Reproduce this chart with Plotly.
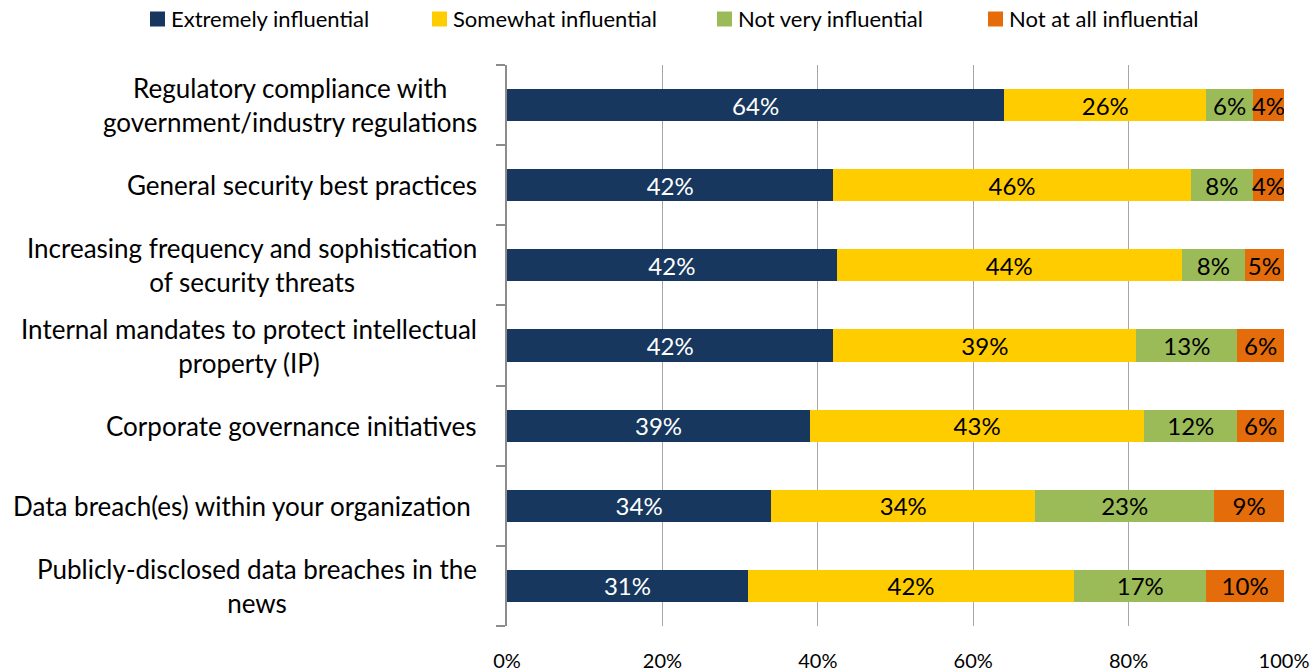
import plotly.graph_objects as go

# Survey: influence of each driver, share of respondents per rating
categories = [
    "Regulatory compliance with<br>government/industry regulations",
    "General security best practices",
    "Increasing frequency and sophistication<br>of security threats",
    "Internal mandates to protect intellectual<br>property (IP)",
    "Corporate governance initiatives",
    "Data breach(es) within your organization\u00a0",
    "Publicly-disclosed data breaches in the<br>news",
]
extremely = [64, 42, 42, 42, 39, 34, 31]
somewhat = [26, 46, 44, 39, 43, 34, 42]
not_very = [6, 8, 8, 13, 12, 23, 17]
not_at_all = [4, 4, 5, 6, 6, 9, 10]

series_names = ["Extremely influential", "Somewhat influential",
                "Not very influential", "Not at all influential"]
series_values = [extremely, somewhat, not_very, not_at_all]
colors = ["#17375E", "#FFCC00", "#9BBB59", "#E46C0A"]
label_colors = ["white", "black", "black", "black"]

x_ticks = [0, 20, 40, 60, 80, 100]
x_tick_labels = [f"{t}%" for t in x_ticks]

FONT = "Lato"
W, H = 1315, 672
M_L, M_R, M_T, M_B = 507, 31, 65, 46
PLOT_W = W - M_L - M_R
PLOT_H = H - M_T - M_B


def px_x(px):
    """Horizontal pixel position -> paper coordinate."""
    return (px - M_L) / PLOT_W


def px_y(py):
    """Vertical pixel position (from top) -> paper coordinate."""
    return (H - M_B - py) / PLOT_H


fig = go.Figure()
row_ids = list(range(len(categories)))
for name, vals, col, lcol in zip(series_names, series_values, colors, label_colors):
    fig.add_trace(go.Bar(
        y=row_ids,
        x=vals,
        name=name,
        orientation="h",
        marker=dict(color=col, line=dict(width=0)),
        text=[f"{v}%" for v in vals],
        textposition="inside",
        insidetextanchor="middle",
        textangle=0,
        constraintext="none",
        textfont=dict(family=FONT, size=24, color=lcol),
        hoverinfo="x+name",
        showlegend=False,
    ))

# Category labels, centred line by line and right-aligned against the axis
for i, cat in enumerate(categories):
    fig.add_annotation(
        x=0, xref="paper", y=i, yref="y",
        text=cat, showarrow=False,
        xanchor="right", yanchor="middle", align="center",
        xshift=-28,
        font=dict(family=FONT, size=26, color="black"),
    )

# Legend row across the top: colour swatch followed by series name
legend_starts = [150, 432, 717, 988]
swatch = 15
legend_cy = 19
for start, name, col in zip(legend_starts, series_names, colors):
    fig.add_shape(
        type="rect", xref="paper", yref="paper",
        x0=px_x(start), x1=px_x(start + swatch),
        y0=px_y(legend_cy + swatch / 2), y1=px_y(legend_cy - swatch / 2),
        fillcolor=col, line=dict(width=0), layer="above",
    )
    fig.add_annotation(
        x=px_x(start + swatch + 4), xref="paper",
        y=px_y(legend_cy), yref="paper",
        text=name, showarrow=False,
        xanchor="left", yanchor="middle",
        font=dict(family=FONT, size=22, color="black"),
    )

fig.update_layout(
    width=W, height=H,
    margin=dict(l=M_L, r=M_R, t=M_T, b=M_B, autoexpand=False),
    barmode="stack",
    barnorm="percent",
    bargap=0.6,
    paper_bgcolor="white",
    plot_bgcolor="white",
    font=dict(family=FONT, color="black"),
    showlegend=False,
    xaxis=dict(
        range=[0, 100],
        tickvals=x_ticks,
        ticktext=x_tick_labels,
        showgrid=True,
        gridcolor="#A6A6A6",
        gridwidth=1,
        zeroline=False,
        showline=False,
        ticks="outside",
        ticklen=17,
        tickcolor="rgba(0,0,0,0)",
        tickfont=dict(family=FONT, size=20, color="black"),
        automargin=False,
        fixedrange=True,
    ),
    yaxis=dict(
        type="linear",
        range=[len(categories) - 0.5, -0.5],
        showticklabels=False,
        tickvals=[i - 0.5 for i in range(len(categories) + 1)],
        ticks="outside",
        ticklen=9,
        tickwidth=2,
        tickcolor="#8C8C8C",
        showline=True,
        linecolor="#8C8C8C",
        linewidth=2,
        showgrid=False,
        zeroline=False,
        automargin=False,
        fixedrange=True,
    ),
)

fig.write_html("out.html")
